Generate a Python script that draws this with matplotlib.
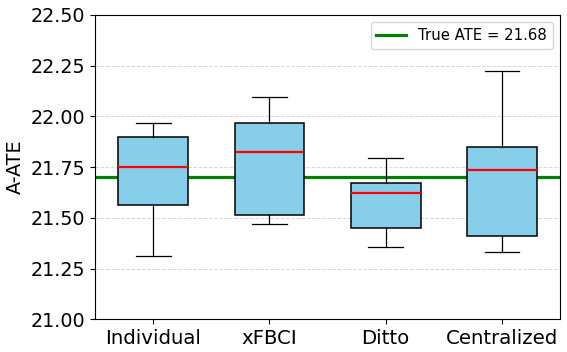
import numpy as np
import matplotlib
matplotlib.use('Agg')
import matplotlib.pyplot as plt

# box stats
methods = ['Individual', 'xFBCI', 'Ditto', 'Centralized']
whislo = [21.310, 21.468, 21.355, 21.330]
q1 = [21.561, 21.512, 21.448, 21.409]
med = [21.751, 21.825, 21.623, 21.735]
q3 = [21.896, 21.965, 21.673, 21.850]
whishi = [21.968, 22.093, 21.793, 22.221]
true_ate_line = 21.70
true_ate_label = 'True ATE = 21.68'

stats = []
for i, name in enumerate(methods):
    stats.append({'label': name, 'whislo': whislo[i], 'q1': q1[i], 'med': med[i],
                  'q3': q3[i], 'whishi': whishi[i], 'fliers': []})

fig, ax = plt.subplots(figsize=(5.67, 3.52), dpi=100)
fig.subplots_adjust(left=0.1675, right=0.988, top=0.958, bottom=0.093)

ax.bxp(stats, positions=[1, 2, 3, 4], widths=0.6, patch_artist=True, showfliers=False,
       boxprops=dict(facecolor='skyblue', edgecolor='black', linewidth=1.1),
       medianprops=dict(color='red', linewidth=1.6),
       whiskerprops=dict(color='black', linewidth=0.9),
       capprops=dict(color='black', linewidth=0.9))

ax.axhline(true_ate_line, color='green', linewidth=2.3, label=true_ate_label, zorder=1)

ax.set_xlim(0.5, 4.5)
ax.set_ylim(21.0, 22.5)
ax.set_yticks(np.arange(21.0, 22.51, 0.25))
ax.yaxis.set_major_formatter(matplotlib.ticker.FormatStrFormatter('%.2f'))
ax.tick_params(axis='x', labelsize=14.2)
ax.tick_params(axis='y', labelsize=13.8)
ax.set_ylabel('A-ATE', fontsize=13.8)
ax.grid(axis='y', linestyle='--', color='lightgray', linewidth=0.7, alpha=0.9)
ax.set_axisbelow(True)
ax.legend(loc='upper right', fontsize=10.7)

plt.savefig('out.png', dpi=100)
